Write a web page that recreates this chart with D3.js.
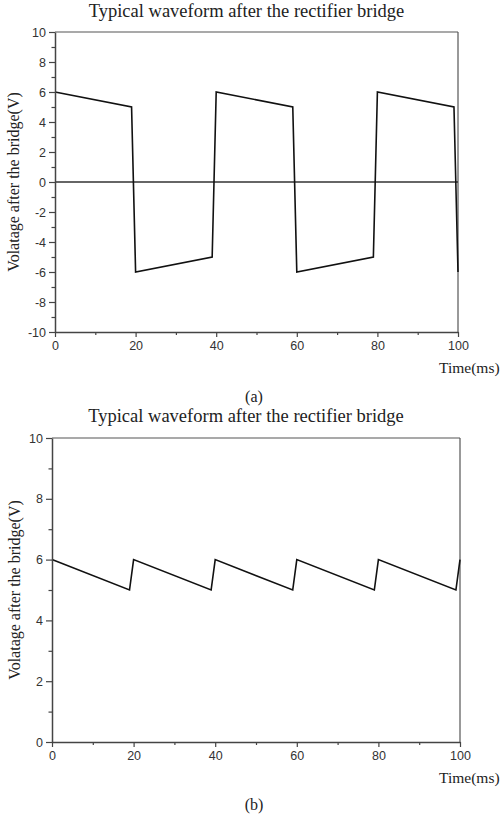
<!DOCTYPE html>
<html>
<head>
<meta charset="utf-8">
<script src="https://cdn.jsdelivr.net/npm/d3@7"></script>
<style>
  html, body { margin: 0; padding: 0; background: #fff; }
  svg { display: block; }
  .serif { font-family: "Liberation Serif", "Times New Roman", serif; fill: #222; }
</style>
</head>
<body>
<svg id="chart" width="501" height="823"></svg>
<script>
// ---- Data ----
const titleText = "Typical waveform after the rectifier bridge";
const yLabelText = "Volatage after the bridge(V)";
const xLabelText = "Time(ms)";

// (a) waveform before smoothing
const timeA = [0, 19, 20, 39, 40, 59, 60, 79, 80, 99, 100];
const voltA = [6, 5, -6, -5, 6, 5, -6, -5, 6, 5, -6];
const yTicksA = [-10, -8, -6, -4, -2, 0, 2, 4, 6, 8, 10];
const yMinorA = [-9, -7, -5, -3, -1, 1, 3, 5, 7, 9];

// (b) waveform after rectifier bridge
const timeB = [0, 19, 20, 39, 40, 59, 60, 79, 80, 99, 100];
const voltB = [6, 5, 6, 5, 6, 5, 6, 5, 6, 5, 6];
const yTicksB = [0, 2, 4, 6, 8, 10];
const yMinorB = [1, 3, 5, 7, 9];

const xTicks = [0, 20, 40, 60, 80, 100];
const xMinor = [10, 30, 50, 70, 90];

const svg = d3.select("#chart");
const fmt = d => String(d);

function styleTicks(s) {
  s.attr("font-size", null).attr("font-family", null);
  s.selectAll(".tick text")
    .style("font-family", '"Liberation Sans", Arial, sans-serif')
    .style("font-size", "12.5px")
    .style("fill", "#333");
}

function panel(cfg) {
  const { left, right, top, bottom, yDomain, yTicks, yMinor, time, volt, zeroLine, titleY, xlabY, capY, capText, ylabX } = cfg;
  const g = svg.append("g");
  const x = d3.scaleLinear().domain([0, 100]).range([left, right]);
  const y = d3.scaleLinear().domain(yDomain).range([bottom, top]);

  // frame top & right
  g.append("line").attr("x1", left).attr("x2", right).attr("y1", top).attr("y2", top)
    .attr("stroke", "#555").attr("stroke-width", 1.2);
  g.append("line").attr("x1", right).attr("x2", right).attr("y1", top).attr("y2", bottom)
    .attr("stroke", "#555").attr("stroke-width", 1.2);

  // zero line
  if (zeroLine) {
    g.append("line").attr("x1", x(0)).attr("x2", x(100)).attr("y1", y(0)).attr("y2", y(0))
      .attr("stroke", "#333").attr("stroke-width", 1.3);
  }

  // data line
  const pts = time.map((t, i) => [t, volt[i]]);
  g.append("path").datum(pts)
    .attr("fill", "none").attr("stroke", "#111").attr("stroke-width", 1.6)
    .attr("stroke-linejoin", "miter")
    .attr("d", d3.line().x(d => x(d[0])).y(d => y(d[1])));

  // x axis minor
  g.append("g").attr("transform", `translate(0,${bottom})`)
    .call(d3.axisBottom(x).tickValues(xMinor).tickSize(3).tickFormat(""))
    .call(s => s.select(".domain").remove())
    .call(s => s.selectAll("line").attr("stroke", "#444").attr("stroke-width", 1.2));
  // x axis major
  g.append("g").attr("transform", `translate(0,${bottom})`)
    .call(d3.axisBottom(x).tickValues(xTicks).tickFormat(fmt).tickSize(5).tickSizeOuter(0).tickPadding(4))
    .call(styleTicks)
    .call(s => s.select(".domain").attr("stroke", "#444").attr("stroke-width", 1.5))
    .call(s => s.selectAll(".tick line").attr("stroke", "#444").attr("stroke-width", 1.2));

  // y axis minor
  g.append("g").attr("transform", `translate(${left},0)`)
    .call(d3.axisLeft(y).tickValues(yMinor).tickSize(3.5).tickFormat(""))
    .call(s => s.select(".domain").remove())
    .call(s => s.selectAll("line").attr("stroke", "#444").attr("stroke-width", 1.2));
  // y axis major
  g.append("g").attr("transform", `translate(${left},0)`)
    .call(d3.axisLeft(y).tickValues(yTicks).tickFormat(fmt).tickSize(6).tickSizeOuter(0).tickPadding(3))
    .call(styleTicks)
    .call(s => s.select(".domain").attr("stroke", "#444").attr("stroke-width", 1.5))
    .call(s => s.selectAll(".tick line").attr("stroke", "#444").attr("stroke-width", 1.2));

  // title
  g.append("text").attr("class", "serif").attr("x", (left + right) / 2 - 10).attr("y", titleY)
    .attr("text-anchor", "middle").attr("font-size", 18.5).text(titleText);
  // y label
  g.append("text").attr("class", "serif")
    .attr("transform", `translate(${ylabX},${(top + bottom) / 2}) rotate(-90)`)
    .attr("text-anchor", "middle").attr("font-size", 16).text(yLabelText);
  // x label
  g.append("text").attr("class", "serif").attr("x", 439).attr("y", xlabY)
    .attr("font-size", 15.5).text(xLabelText);
  // caption
  g.append("text").attr("class", "serif").attr("x", 254).attr("y", capY)
    .attr("text-anchor", "middle").attr("font-size", 16).text(capText);
}

panel({ left: 55, right: 458, top: 32, bottom: 332, yDomain: [-10, 10], yTicks: yTicksA, yMinor: yMinorA,
  time: timeA, volt: voltA, zeroLine: true, titleY: 17, xlabY: 373, capY: 402, capText: "(a)", ylabX: 19 });
panel({ left: 52, right: 460, top: 438, bottom: 742, yDomain: [0, 10], yTicks: yTicksB, yMinor: yMinorB,
  time: timeB, volt: voltB, zeroLine: false, titleY: 422, xlabY: 783, capY: 810, capText: "(b)", ylabX: 20 });
</script>
</body>
</html>
